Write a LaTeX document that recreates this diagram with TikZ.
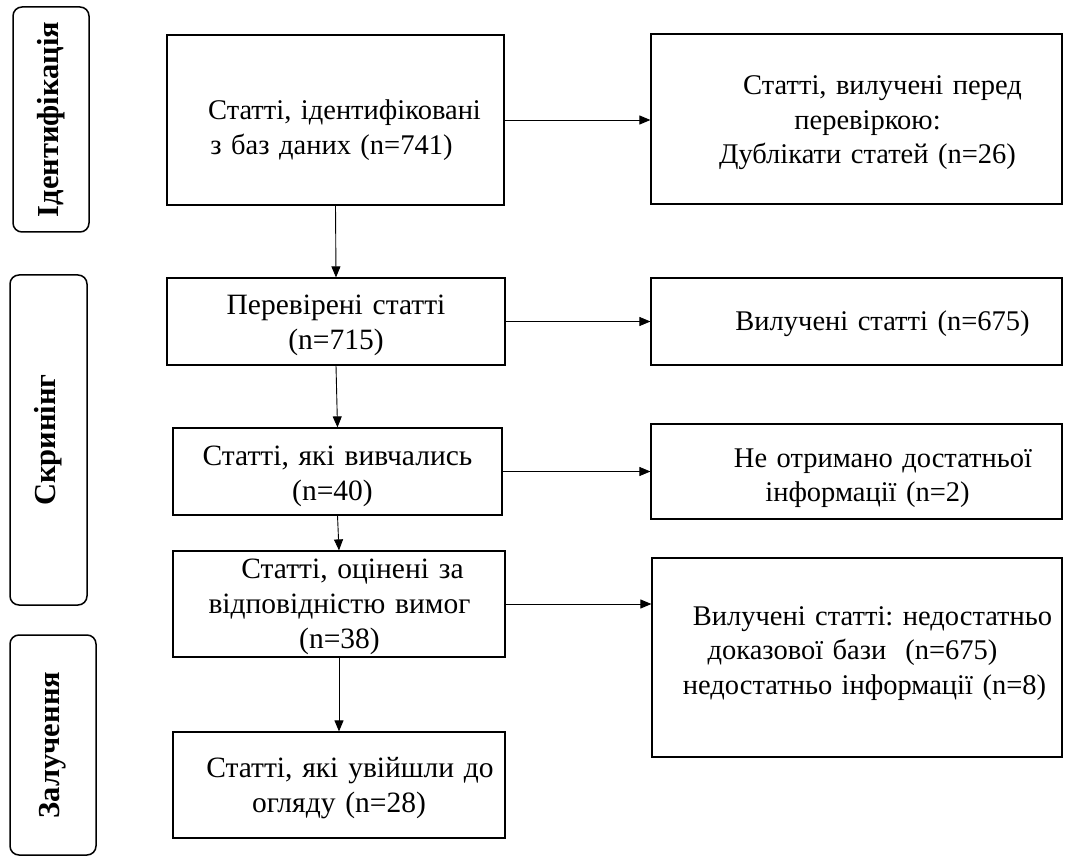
\documentclass[tikz,border=0pt]{standalone}
\usepackage{fontspec}
\setmainfont{Liberation Serif}
\usetikzlibrary{arrows.meta}
\begin{document}
\begin{tikzpicture}[x=1pt,y=-1pt,
  box/.style={draw, line width=1.2pt, inner sep=0pt},
  phase/.style={draw, line width=1.5pt, rounded corners=9pt, rotate=90, inner sep=0pt,
    font=\fontsize{30.5}{34}\selectfont\bfseries},
  txt/.style={text width=480pt, align=center, anchor=base, inner sep=0pt,
    font=\fontsize{28.5}{34.5}\selectfont\frenchspacing},
  txtb/.style={txt, font=\fontsize{29.5}{35}\selectfont\frenchspacing},
  arr/.style={draw, line width=0.9pt, -{Triangle[length=11pt,width=9pt]}}
]
\useasboundingbox (0,0) rectangle (1075,858);

% phase labels
\node[phase, minimum width=225pt, minimum height=76pt] (p1) at (51,119.5) {Ідентифікація};
\node[phase, minimum width=330pt, minimum height=77pt] (p2) at (48.5,440) {Скринінг};
\node[phase, minimum width=220pt, minimum height=86pt] (p3) at (53,745) {Залучення};

% main boxes
\node[box, minimum width=337pt, minimum height=170pt] (b1) at (335.5,120) {};
\node[box, minimum width=338pt, minimum height=87pt] (b2) at (336,321.5) {};
\node[box, minimum width=329pt, minimum height=87pt] (b3) at (337.5,471.5) {};
\node[box, minimum width=332pt, minimum height=106pt] (b4) at (339,604) {};
\node[box, minimum width=332pt, minimum height=106pt] (b5) at (339,785) {};

\node[box, minimum width=411pt, minimum height=170pt] (r1) at (856.5,119) {};
\node[box, minimum width=411pt, minimum height=87pt] (r2) at (856.5,321.5) {};
\node[box, minimum width=411pt, minimum height=95pt] (r3) at (856.5,471.5) {};
\node[box, minimum width=410pt, minimum height=199pt] (r4) at (857,657.5) {};

% texts
\node[txt] (t1) at (331.5,120) {\hspace*{26pt}Статті, ідентифіковані\\з баз даних (n=741)};
\node[txtb] (t2) at (336,315) {Перевірені статті\\(n=715)};
\node[txtb] (t3) at (332.5,465) {\hspace*{10pt}Статті, які вивчались\\(n=40)};
\node[txtb] (t4) at (339.5,578) {\hspace*{26pt}Статті, оцінені за\\відповідністю вимог\\(n=38)};
\node[txtb] (t5) at (339,777) {\hspace*{22pt}Статті, які увійшли до\\огляду (n=28)};

\node[txt] (s1) at (867.5,95) {\hspace*{30pt}Статті, вилучені перед\\перевіркою:\\Дублікати статей (n=26)};
\node[txt] (s2) at (882.5,330) {Вилучені статті (n=675)};
\node[txt] (s3) at (867.5,467) {\hspace*{31pt}Не отримано достатньої\\інформації (n=2)};
\node[txt] (s4) at (852.5,625) {\hspace*{40pt}Вилучені статті: недостатньо\\доказової бази~~(n=675)\\\hspace*{24pt}недостатньо інформації (n=8)};

% connectors
\draw[arr] (b1.south) -- (b2.north);
\draw[arr] (b2.south) -- (b3.north);
\draw[arr] (b3.south) -- (b4.north);
\draw[arr] (b4.south) -- (b5.north);
\draw[arr] (b1.east) -- (b1.east -| r1.west);
\draw[arr] (b2.east) -- (b2.east -| r2.west);
\draw[arr] (b3.east) -- (b3.east -| r3.west);
\draw[arr] (b4.east) -- (b4.east -| r4.west);
\end{tikzpicture}
\end{document}
